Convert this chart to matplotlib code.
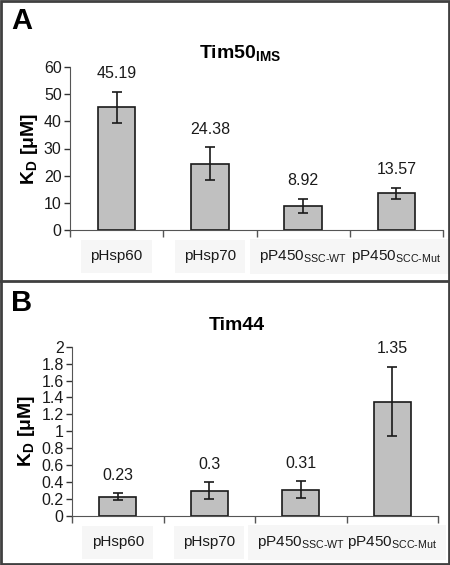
import matplotlib
matplotlib.use("Agg")
import matplotlib.pyplot as plt
from matplotlib.patches import Rectangle
from matplotlib.lines import Line2D
import numpy as np

plt.rcParams['font.family'] = ['Liberation Sans', 'DejaVu Sans']
plt.rcParams['mathtext.fontset'] = 'custom'
plt.rcParams['mathtext.rm'] = 'Liberation Sans'
plt.rcParams['mathtext.bf'] = 'Liberation Sans:bold'
plt.rcParams['mathtext.it'] = 'Liberation Sans:italic'

categories = ["pHsp60", "pHsp70", r"pP450$_{\mathregular{SSC\text{-}WT}}$", r"pP450$_{\mathregular{SCC\text{-}Mut}}$"]

tim50_values = [45.19, 24.38, 8.92, 13.57]
tim50_errors = [5.7, 6.1, 2.6, 2.0]
tim50_labels = ["45.19", "24.38", "8.92", "13.57"]
tim50_ticks = [0, 10, 20, 30, 40, 50, 60]

tim44_values = [0.23, 0.30, 0.31, 1.35]
tim44_errors = [0.04, 0.10, 0.10, 0.41]
tim44_labels = ["0.23", "0.3", "0.31", "1.35"]
tim44_ticks = [0, 0.2, 0.4, 0.6, 0.8, 1.0, 1.2, 1.4, 1.6, 1.8, 2.0]
tim44_ticklabels = ["0", "0.2", "0.4", "0.6", "0.8", "1", "1.2", "1.4", "1.6", "1.8", "2"]

W, H = 450, 565
fig = plt.figure(figsize=(W / 100, H / 100), dpi=100)


def panel(rect, values, errors, labels, ticks, ticklabels, ymax, title, letter, letter_xy, title_xy):
    ax = fig.add_axes(rect)
    x = np.arange(len(values))
    ax.bar(x, values, width=0.4, color='#c0c0c0', edgecolor='#1a1a1a', linewidth=1.2, zorder=2)
    ax.errorbar(x, values, yerr=errors, fmt='none', ecolor='#1a1a1a', elinewidth=1.2,
                capsize=3.5, capthick=1.2, zorder=3)
    for xi, v, e, lab in zip(x, values, errors, labels):
        ax.annotate(lab, (xi, v + e), xytext=(0, 13), textcoords='offset points',
                    ha='center', va='center', fontsize=11.5, color='#1a1a1a')
    ax.set_xlim(-0.5, len(values) - 0.5)
    ax.set_ylim(0, ymax)
    ax.set_yticks(ticks)
    ax.set_yticklabels(ticklabels if ticklabels else [str(t) for t in ticks])
    ax.set_xticks(np.arange(-0.5, len(values), 1.0))
    ax.set_xticklabels([])
    ax.tick_params(axis='y', direction='out', length=4, width=1, colors='#333333',
                   labelsize=11.5, labelcolor='#1a1a1a', pad=2)
    ax.tick_params(axis='x', direction='out', length=5, width=1, colors='#555555')
    for s in ['top', 'right']:
        ax.spines[s].set_visible(False)
    ax.spines['left'].set_color('#555555')
    ax.spines['bottom'].set_color('#555555')
    # faint label backgrounds first, then the label texts on top
    for xi, c in zip(x, categories):
        ax.annotate(c, (xi, 0), xytext=(0, -19), textcoords='offset points',
                    ha='center', va='center', fontsize=11, color=(0, 0, 0, 0),
                    bbox=dict(boxstyle='square,pad=0.6', fc='#f6f6f6', ec='none'),
                    annotation_clip=False, zorder=1)
    for xi, c in zip(x, categories):
        ax.annotate(c, (xi, 0), xytext=(0, -19), textcoords='offset points',
                    ha='center', va='center', fontsize=11, color='#1a1a1a',
                    annotation_clip=False, zorder=2)
    ax.set_ylabel(r"K$_{\mathbf{D}}$ [μM]", fontsize=14, fontweight='bold', labelpad=3)
    fig.text(title_xy[0] / W, 1 - title_xy[1] / H, title, ha='center', va='center',
             fontsize=14, fontweight='bold')
    fig.text(letter_xy[0] / W, 1 - letter_xy[1] / H, letter, ha='left', va='center',
             fontsize=21, fontweight='bold')
    return ax


panel([70 / W, 1 - 230 / H, 373 / W, 163 / H], tim50_values, tim50_errors, tim50_labels,
      tim50_ticks, None, 60, r"Tim50$_{\mathbf{IMS}}$", "A", (11, 21), (240, 53))
panel([72 / W, 1 - 516 / H, 366 / W, 169.3 / H], tim44_values, tim44_errors, tim44_labels,
      tim44_ticks, tim44_ticklabels, 2, "Tim44", "B", (11, 303), (237, 325))

# outer frame and divider
fig.add_artist(Rectangle((1 / W, 1 / H), 1 - 2 / W, 1 - 2 / H, transform=fig.transFigure,
                         fill=False, ec='#404040', lw=2))
fig.add_artist(Line2D([0, 1], [1 - 281 / H, 1 - 281 / H], transform=fig.transFigure,
                      color='#404040', lw=2))

fig.savefig("out.png", dpi=100)
